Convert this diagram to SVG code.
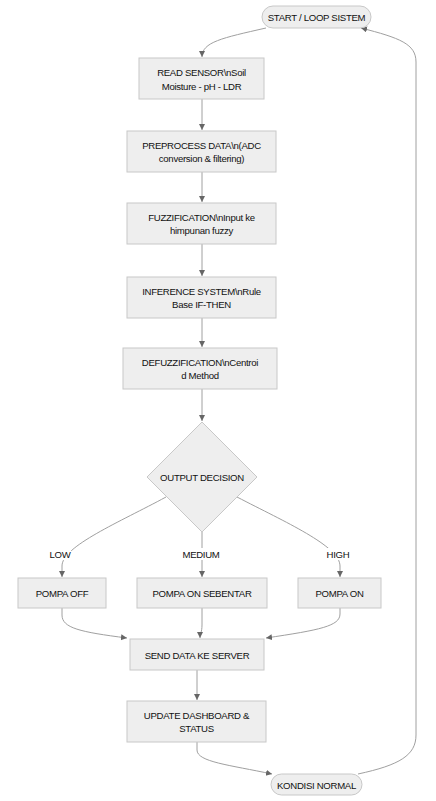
<svg xmlns="http://www.w3.org/2000/svg" width="436" height="801" viewBox="0 0 436 801">
<defs>
<marker id="arr" markerWidth="8" markerHeight="8" refX="6" refY="3" orient="auto" markerUnits="userSpaceOnUse">
<path d="M0,0 L6,3 L0,6 Z" fill="#666"/>
</marker>
<style>
.n{fill:#eeeeee;stroke:#c8c8c8;stroke-width:1}
.t{font-family:"Liberation Sans",Arial,sans-serif;font-size:9.6px;letter-spacing:-0.3px;fill:#111111;text-anchor:middle;dominant-baseline:central}
.e{fill:none;stroke:#a0a0a0;stroke-width:1;marker-end:url(#arr)}
.lb{fill:#ffffff}
</style>
</defs>
<rect width="436" height="801" fill="#ffffff"/>
<g id="edges">
<path class="e" d="M266,28 C222,38 202,42 202,57"/>
<path class="e" d="M202,99 L202,130"/>
<path class="e" d="M202,172 L202,202"/>
<path class="e" d="M202,244 L202,276"/>
<path class="e" d="M202,318 L202,347"/>
<path class="e" d="M202,389 L202,421"/>
<path class="e" d="M166,497 C120,522 62,546 62,566 L62,577"/>
<path class="e" d="M202,532 L202,577"/>
<path class="e" d="M237,497 C285,522 340,546 340,566 L340,577"/>
<path class="e" d="M62,608 L62,615 C62,628 80,632 127,638"/>
<path class="e" d="M202,608 L202,625 C202,632 200,634 200,638"/>
<path class="e" d="M340,608 L340,614 C340,626 320,630 266,638"/>
<path class="e" d="M197,670 L197,700"/>
<path class="e" d="M197,742 L197,750 C197,762 230,765 272,774"/>
<path class="e" d="M358,774 C400,765 416,755 416,735 L416,62 C416,44 400,38 361,28"/>
</g>
<g id="labels">
<rect class="lb" x="49" y="548" width="22" height="12"/>
<text class="t" x="60" y="554">LOW</text>
<rect class="lb" x="182" y="548" width="38" height="12"/>
<text class="t" x="201" y="554">MEDIUM</text>
<rect class="lb" x="327" y="548" width="22" height="12"/>
<text class="t" x="338" y="554">HIGH</text>
</g>
<g id="start">
<rect class="n" x="262" y="6" width="109" height="22" rx="11"/>
<text class="t" x="316.5" y="17">START / LOOP SISTEM</text>
</g>
<g id="read">
<rect class="n" x="139" y="58" width="125" height="41"/>
<text class="t" x="201.5" y="72">READ SENSOR\nSoil</text>
<text class="t" x="201.5" y="86">Moisture - pH - LDR</text>
</g>
<g id="preprocess">
<rect class="n" x="127" y="131" width="149" height="41"/>
<text class="t" x="201.5" y="145">PREPROCESS DATA\n(ADC</text>
<text class="t" x="201.5" y="158">conversion &amp; filtering)</text>
</g>
<g id="fuzz">
<rect class="n" x="127" y="203" width="149" height="41"/>
<text class="t" x="201.5" y="217">FUZZIFICATION\nInput ke</text>
<text class="t" x="201.5" y="230">himpunan fuzzy</text>
</g>
<g id="infer">
<rect class="n" x="127" y="277" width="149" height="41"/>
<text class="t" x="201.5" y="291">INFERENCE SYSTEM\nRule</text>
<text class="t" x="201.5" y="304">Base IF-THEN</text>
</g>
<g id="defuzz">
<rect class="n" x="123" y="348" width="154" height="41"/>
<text class="t" x="200" y="362">DEFUZZIFICATION\nCentroi</text>
<text class="t" x="200" y="375">d Method</text>
</g>
<g id="decision">
<path class="n" stroke-linejoin="round" d="M202,422 L257,477 L202,532 L147,477 Z"/>
<text class="t" x="202" y="477">OUTPUT DECISION</text>
</g>
<g id="off">
<rect class="n" x="18" y="578" width="88" height="30"/>
<text class="t" x="62" y="593">POMPA OFF</text>
</g>
<g id="sebentar">
<rect class="n" x="137" y="578" width="130" height="30"/>
<text class="t" x="202" y="593">POMPA ON SEBENTAR</text>
</g>
<g id="on">
<rect class="n" x="298" y="578" width="83" height="30"/>
<text class="t" x="339.5" y="593">POMPA ON</text>
</g>
<g id="send">
<rect class="n" x="130" y="639" width="134" height="31"/>
<text class="t" x="197" y="655">SEND DATA KE SERVER</text>
</g>
<g id="update">
<rect class="n" x="127" y="701" width="139" height="41"/>
<text class="t" x="196.5" y="715">UPDATE DASHBOARD &amp;</text>
<text class="t" x="196.5" y="728">STATUS</text>
</g>
<g id="normal">
<rect class="n" x="271" y="774" width="91" height="21" rx="10.5"/>
<text class="t" x="316.5" y="785">KONDISI NORMAL</text>
</g>
</svg>
